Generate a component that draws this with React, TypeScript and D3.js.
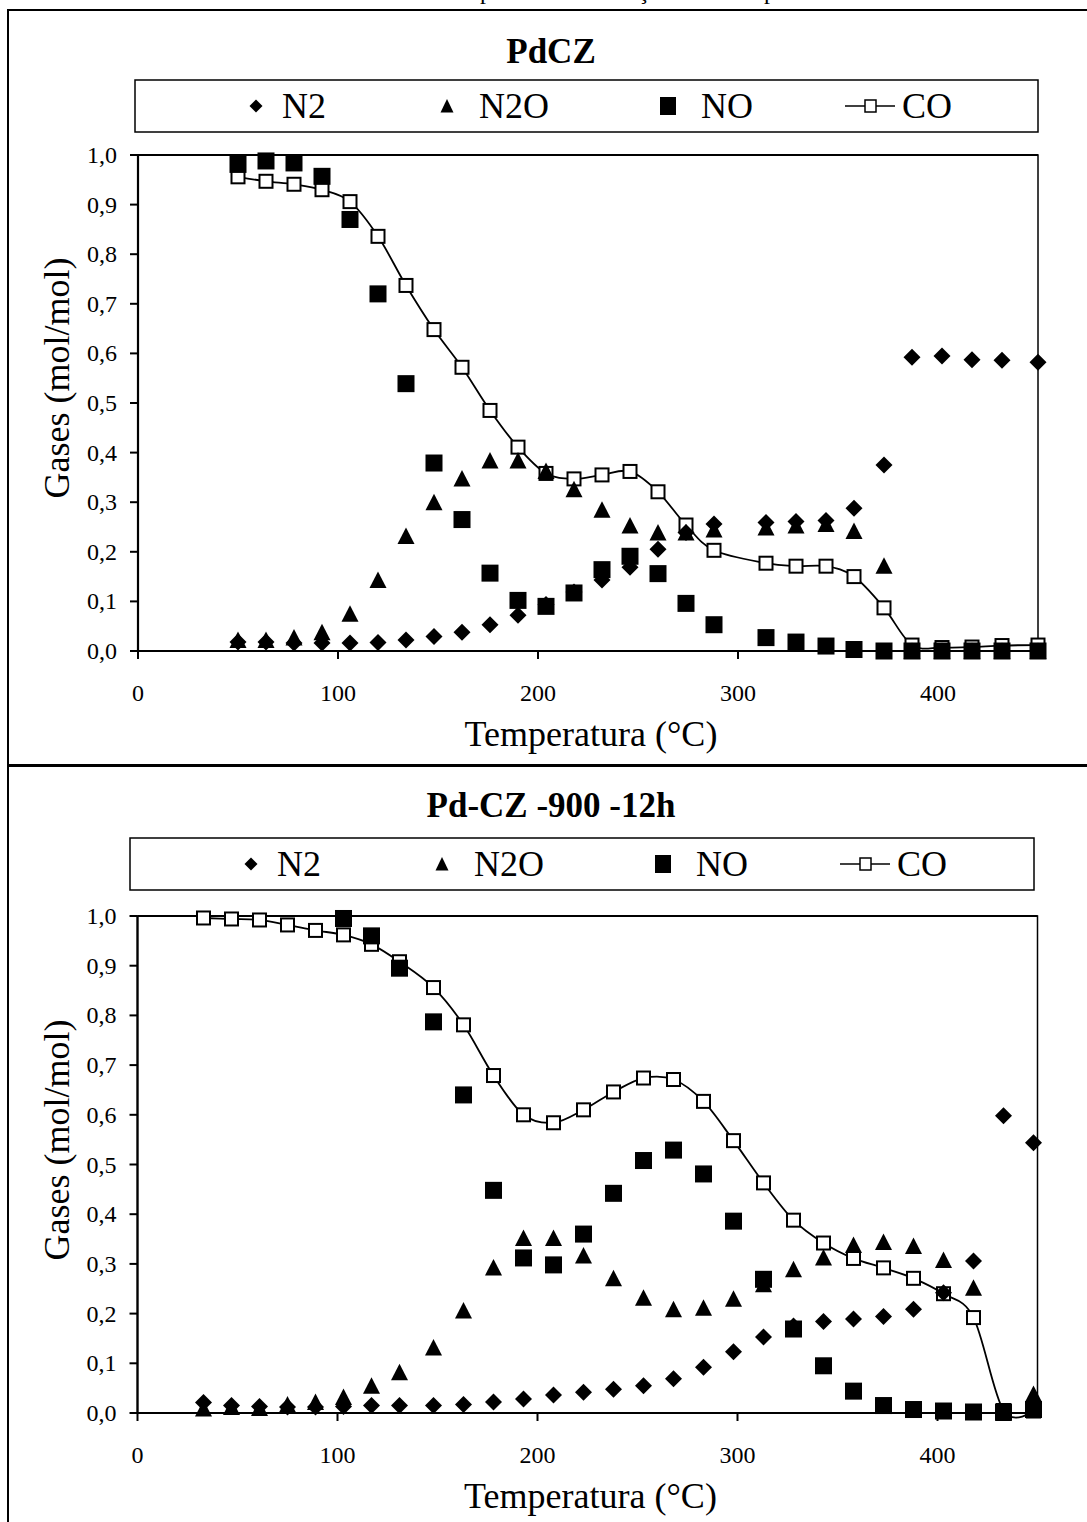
import React from 'react';
import * as d3 from 'd3';

const FONT = "'Liberation Serif','Times New Roman',Times,serif";

// ---------- Top chart: PdCZ ----------
const topTemps = [50, 64, 78, 92, 106, 120, 134, 148, 162, 176, 190, 204, 218, 232, 246, 260, 274, 288, 314, 329, 344, 358, 373, 387, 402, 417, 432, 450];
const topN2 = [0.018, 0.018, 0.016, 0.016, 0.016, 0.017, 0.022, 0.029, 0.038, 0.053, 0.072, 0.094, 0.119, 0.143, 0.169, 0.205, 0.239, 0.256, 0.259, 0.261, 0.263, 0.288, 0.375, 0.592, 0.595, 0.587, 0.586, 0.582];
const topN2O = [0.022, 0.022, 0.027, 0.038, 0.075, 0.143, 0.232, 0.300, 0.348, 0.384, 0.384, 0.363, 0.326, 0.285, 0.253, 0.239, 0.239, 0.245, 0.249, 0.253, 0.256, 0.242, 0.172, 0, 0, 0, 0, 0];
const topNO = [0.981, 0.988, 0.984, 0.957, 0.870, 0.720, 0.539, 0.379, 0.265, 0.157, 0.102, 0.090, 0.117, 0.164, 0.191, 0.156, 0.096, 0.053, 0.027, 0.018, 0.010, 0.003, 0, 0, 0, 0, 0, 0];
const topCO = [0.956, 0.947, 0.941, 0.930, 0.906, 0.836, 0.737, 0.648, 0.572, 0.485, 0.411, 0.358, 0.347, 0.355, 0.362, 0.321, 0.254, 0.203, 0.177, 0.171, 0.171, 0.150, 0.087, 0.012, 0.007, 0.008, 0.011, 0.012];

// ---------- Bottom chart: Pd-CZ -900 -12h ----------
const botTemps = [33, 47, 61, 75, 89, 103, 117, 131, 148, 163, 178, 193, 208, 223, 238, 253, 268, 283, 298, 313, 328, 343, 358, 373, 388, 403, 418, 433, 448];
const botN2 = [0.021, 0.015, 0.013, 0.012, 0.012, 0.013, 0.015, 0.015, 0.015, 0.017, 0.022, 0.028, 0.036, 0.042, 0.048, 0.055, 0.069, 0.092, 0.123, 0.153, 0.175, 0.184, 0.189, 0.194, 0.209, 0.242, 0.306, 0.598, 0.544];
const botN2O = [0.009, 0.012, 0.010, 0.017, 0.022, 0.032, 0.055, 0.082, 0.132, 0.206, 0.293, 0.352, 0.352, 0.317, 0.271, 0.232, 0.209, 0.212, 0.230, 0.259, 0.289, 0.313, 0.338, 0.344, 0.336, 0.308, 0.252, 0, 0.038];
const botNO: (number | null)[] = [null, null, null, null, null, 0.995, 0.960, 0.895, 0.787, 0.640, 0.448, 0.312, 0.298, 0.360, 0.442, 0.508, 0.529, 0.481, 0.386, 0.269, 0.169, 0.095, 0.044, 0.015, 0.007, 0.004, 0.002, 0.002, 0.007];
const botCO = [0.996, 0.994, 0.992, 0.982, 0.971, 0.962, 0.943, 0.908, 0.856, 0.781, 0.679, 0.600, 0.584, 0.610, 0.646, 0.674, 0.671, 0.627, 0.548, 0.463, 0.388, 0.342, 0.311, 0.292, 0.271, 0.240, 0.192, 0.005, 0.004];

const xTickValues = [0, 100, 200, 300, 400];
const yTickValues = [0, 0.1, 0.2, 0.3, 0.4, 0.5, 0.6, 0.7, 0.8, 0.9, 1.0];
const xDomain = [0, 450];
const yDomain = [0, 1];
const legendNames = ['N2', 'N2O', 'NO', 'CO'];

type Cfg = {
  panelTop: number;
  title: string;
  titleY: number;
  legendLeft: number;
  legendRight: number;
  legendTop: number;
  legendBottom: number;
  plotLeft: number;
  plotRight: number;
  plotTop: number;
  plotBottom: number;
  yTitleY: number;
  temps: number[];
  n2: (number | null)[];
  n2o: (number | null)[];
  no: (number | null)[];
  co: (number | null)[];
};

const diamondPath = (cx: number, cy: number, r: number) =>
  `M${cx},${cy - r}L${cx + r},${cy}L${cx},${cy + r}L${cx - r},${cy}Z`;
const trianglePath = (cx: number, cy: number, w: number, h: number) =>
  `M${cx},${cy - h / 2 - 0.5}L${cx + w / 2},${cy + h / 2}L${cx - w / 2},${cy + h / 2}Z`;

const fmt = (v: number) => d3.format('.1f')(v).replace('.', ',');

function Panel({ cfg }: { cfg: Cfg }) {
  const x = d3.scaleLinear().domain(xDomain).range([cfg.plotLeft, cfg.plotRight]);
  const y = d3.scaleLinear().domain(yDomain).range([cfg.plotBottom, cfg.plotTop]);
  const pts = (vals: (number | null)[]) =>
    cfg.temps.map((t, i) => ({ t, v: vals[i] })).filter((d) => d.v !== null) as { t: number; v: number }[];

  const line = d3
    .line<{ t: number; v: number }>()
    .x((d) => x(d.t))
    .y((d) => y(d.v))
    .curve(d3.curveCardinal.tension(0));

  const ly = (cfg.legendTop + cfg.legendBottom) / 2;
  const L = cfg.legendLeft;
  const tickLen = 8;

  return (
    <g>
      {/* title */}
      <text x={551} y={cfg.titleY} textAnchor="middle" fontFamily={FONT} fontWeight="bold" fontSize={35}>
        {cfg.title}
      </text>
      {/* legend */}
      <rect x={cfg.legendLeft} y={cfg.legendTop} width={cfg.legendRight - cfg.legendLeft} height={cfg.legendBottom - cfg.legendTop} fill="white" stroke="black" strokeWidth={1.5} />
      <path d={diamondPath(L + 121, ly, 6.5)} fill="black" />
      <text x={L + 147} y={ly + 12} fontFamily={FONT} fontSize={36}>{legendNames[0]}</text>
      <path d={trianglePath(L + 312, ly, 13, 13)} fill="black" />
      <text x={L + 344} y={ly + 12} fontFamily={FONT} fontSize={36}>{legendNames[1]}</text>
      <rect x={L + 525} y={ly - 9} width={16} height={18} fill="black" />
      <text x={L + 566} y={ly + 12} fontFamily={FONT} fontSize={36}>{legendNames[2]}</text>
      <line x1={L + 710} x2={L + 760} y1={ly} y2={ly} stroke="black" strokeWidth={1.5} />
      <rect x={L + 730} y={ly - 6} width={11} height={12} fill="white" stroke="black" strokeWidth={1.5} />
      <text x={L + 767} y={ly + 12} fontFamily={FONT} fontSize={36}>{legendNames[3]}</text>

      {/* plot frame */}
      <rect x={cfg.plotLeft} y={cfg.plotTop} width={cfg.plotRight - cfg.plotLeft} height={cfg.plotBottom - cfg.plotTop} fill="white" stroke="black" strokeWidth={1.5} />
      <line x1={cfg.plotLeft} x2={cfg.plotLeft} y1={cfg.plotTop} y2={cfg.plotBottom} stroke="black" strokeWidth={2.2} />
      <line x1={cfg.plotLeft} x2={cfg.plotRight} y1={cfg.plotBottom} y2={cfg.plotBottom} stroke="black" strokeWidth={2.2} />
      <line x1={cfg.plotLeft} x2={cfg.plotRight} y1={cfg.plotTop} y2={cfg.plotTop} stroke="black" strokeWidth={2} />

      {/* y axis ticks */}
      {yTickValues.map((v) => (
        <g key={'y' + v}>
          <line x1={cfg.plotLeft - tickLen} x2={cfg.plotLeft} y1={y(v)} y2={y(v)} stroke="black" strokeWidth={2} />
          <text x={cfg.plotLeft - 21} y={y(v) + 8} textAnchor="end" fontFamily={FONT} fontSize={24}>
            {fmt(v)}
          </text>
        </g>
      ))}
      {/* x axis ticks */}
      {xTickValues.map((v) => (
        <g key={'x' + v}>
          <line x1={x(v)} x2={x(v)} y1={cfg.plotBottom} y2={cfg.plotBottom + tickLen} stroke="black" strokeWidth={2} />
          <text x={x(v)} y={cfg.plotBottom + 50} textAnchor="middle" fontFamily={FONT} fontSize={24}>
            {v}
          </text>
        </g>
      ))}
      {/* axis titles */}
      <text x={(cfg.plotLeft + cfg.plotRight) / 2 + 3} y={cfg.plotBottom + 95} textAnchor="middle" fontFamily={FONT} fontSize={36}>
        Temperatura (°C)
      </text>
      <text
        transform={`translate(69,${cfg.yTitleY}) rotate(-90)`}
        textAnchor="middle"
        fontFamily={FONT}
        fontSize={36}
      >
        Gases (mol/mol)
      </text>

      {/* CO line + markers (drawn beneath) */}
      <path d={line(pts(cfg.co)) || ''} fill="none" stroke="black" strokeWidth={1.8} />
      {pts(cfg.co).map((d, i) => (
        <rect key={'co' + i} x={x(d.t) - 6.5} y={y(d.v) - 6.5} width={13} height={13} fill="white" stroke="black" strokeWidth={2} />
      ))}
      {/* N2 diamonds */}
      {pts(cfg.n2).map((d, i) => (
        <path key={'n2' + i} d={diamondPath(x(d.t), y(d.v), 8.5)} fill="black" />
      ))}
      {/* N2O triangles */}
      {pts(cfg.n2o).map((d, i) => (
        <path key={'n2o' + i} d={trianglePath(x(d.t), y(d.v), 17, 16)} fill="black" />
      ))}
      {/* NO squares */}
      {pts(cfg.no).map((d, i) => (
        <rect key={'no' + i} x={x(d.t) - 8.5} y={y(d.v) - 8.5} width={17} height={17} fill="black" />
      ))}
    </g>
  );
}

const topCfg: Cfg = {
  panelTop: 10,
  title: 'PdCZ',
  titleY: 63,
  legendLeft: 135,
  legendRight: 1038,
  legendTop: 80,
  legendBottom: 132,
  plotLeft: 138,
  plotRight: 1038,
  plotTop: 155,
  plotBottom: 651,
  yTitleY: 378,
  temps: topTemps,
  n2: topN2,
  n2o: topN2O,
  no: topNO,
  co: topCO,
};

const botCfg: Cfg = {
  panelTop: 765,
  title: 'Pd-CZ -900 -12h',
  titleY: 817,
  legendLeft: 130,
  legendRight: 1034,
  legendTop: 838,
  legendBottom: 890,
  plotLeft: 137.5,
  plotRight: 1037.5,
  plotTop: 916,
  plotBottom: 1413,
  yTitleY: 1140,
  temps: botTemps,
  n2: botN2,
  n2o: botN2O,
  no: botNO,
  co: botCO,
};

export default function App() {
  return (
    <svg
      width={1087}
      height={1522}
      viewBox="0 0 1087 1522"
      style={{ position: 'absolute', left: 0, top: 0, background: 'white' }}
    >
      <rect x={0} y={0} width={1087} height={1522} fill="white" />
      {/* cut-off caption fragments above the figure */}
      <text x={480} y={-1} fontFamily={FONT} fontSize={24}>p</text>
      <text x={638} y={-1} fontFamily={FONT} fontSize={24}>ç</text>
      <text x={764} y={-1} fontFamily={FONT} fontSize={24}>p</text>
      {/* panel borders */}
      <rect x={8} y={10} width={1100} height={755} fill="white" stroke="black" strokeWidth={2} />
      <rect x={8} y={766} width={1100} height={800} fill="white" stroke="black" strokeWidth={2} />
      <Panel cfg={topCfg} />
      <Panel cfg={botCfg} />
    </svg>
  );
}
